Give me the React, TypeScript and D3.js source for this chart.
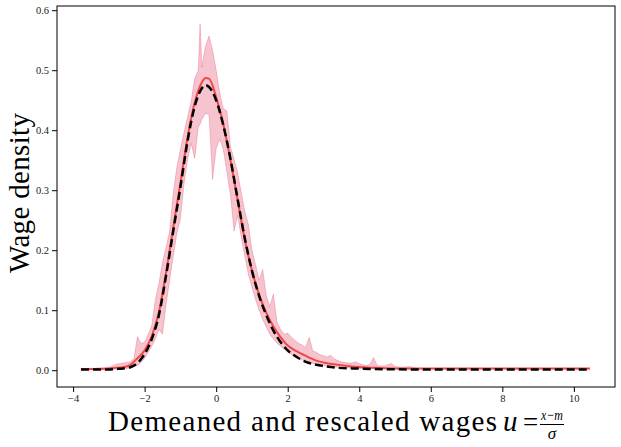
import React, { useRef, useEffect } from 'react';
import * as d3 from 'd3';

// confidence band around the estimated wage density
const bandU = [-3.78, -3.7, -3.6, -3.5, -3.4, -3.3, -3.2, -3.1, -3.0, -2.9, -2.8, -2.7, -2.6, -2.5, -2.4, -2.3, -2.2, -2.1, -2.0, -1.9,
  -1.8, -1.7, -1.6, -1.5, -1.4, -1.3, -1.2, -1.1, -1.0, -0.9, -0.8, -0.7, -0.6, -0.5, -0.45, -0.4, -0.3, -0.2, -0.1, 0.0,
  0.1, 0.2, 0.3, 0.4, 0.5, 0.6, 0.7, 0.8, 0.9, 1.0, 1.1, 1.2, 1.3, 1.4, 1.5, 1.6, 1.7, 1.8, 1.9, 2.0,
  2.1, 2.2, 2.3, 2.4, 2.5, 2.6, 2.7, 2.8, 2.9, 3.0, 3.1, 3.2, 3.3, 3.4, 3.5, 3.6, 3.7, 3.8, 3.9, 4.0,
  4.1, 4.2, 4.3, 4.4, 4.5, 4.6, 4.7, 4.8, 4.9, 5.0, 5.2, 5.4, 5.6, 6.0, 7.0, 8.0, 9.0, 10.0, 10.45];
const bandLow = [0.001, 0.001, 0.001, 0.001, 0.001, 0.001, 0.001, 0.001, 0.001, 0.001, 0.002, 0.002, 0.002, 0.003, 0.004, 0.006, 0.008, 0.013, 0.020, 0.030,
  0.040, 0.052, 0.068, 0.060, 0.110, 0.150, 0.190, 0.228, 0.252, 0.310, 0.352, 0.378, 0.353, 0.405, 0.410, 0.418, 0.428, 0.426, 0.318, 0.370,
  0.385, 0.368, 0.330, 0.292, 0.232, 0.258, 0.222, 0.190, 0.160, 0.138, 0.118, 0.100, 0.085, 0.072, 0.060, 0.052, 0.045, 0.040, 0.035, 0.030,
  0.026, 0.022, 0.019, 0.017, 0.015, 0.013, 0.011, 0.010, 0.009, 0.008, 0.007, 0.006, 0.005, 0.005, 0.004, 0.004, 0.004, 0.003, 0.003, 0.003,
  0.003, 0.003, 0.003, 0.003, 0.003, 0.002, 0.002, 0.002, 0.002, 0.002, 0.002, 0.002, 0.002, 0.002, 0.002, 0.002, 0.002, 0.002, 0.002];
const bandHigh = [0.003, 0.003, 0.003, 0.003, 0.003, 0.004, 0.004, 0.004, 0.005, 0.007, 0.010, 0.011, 0.012, 0.013, 0.014, 0.019, 0.056, 0.044, 0.047, 0.060,
  0.075, 0.118, 0.145, 0.180, 0.205, 0.232, 0.295, 0.338, 0.368, 0.396, 0.422, 0.448, 0.486, 0.500, 0.577, 0.505, 0.540, 0.557, 0.533, 0.500,
  0.462, 0.436, 0.432, 0.372, 0.352, 0.330, 0.296, 0.265, 0.243, 0.200, 0.176, 0.150, 0.168, 0.125, 0.106, 0.127, 0.080, 0.068, 0.060, 0.062,
  0.055, 0.050, 0.045, 0.042, 0.038, 0.055, 0.032, 0.030, 0.026, 0.024, 0.022, 0.025, 0.019, 0.016, 0.014, 0.013, 0.012, 0.012, 0.014, 0.011,
  0.009, 0.008, 0.010, 0.021, 0.008, 0.007, 0.007, 0.009, 0.011, 0.006, 0.005, 0.006, 0.003, 0.003, 0.003, 0.003, 0.003, 0.003, 0.003];

// smooth curves: estimated (red) and fitted (black dashed)
const lineU = [-3.78, -3.4, -3.0, -2.8, -2.6, -2.4, -2.2, -2.0, -1.8, -1.6, -1.4, -1.2, -1.0, -0.8, -0.6, -0.4, -0.3, -0.2, 0.0, 0.2,
  0.4, 0.6, 0.8, 1.0, 1.2, 1.4, 1.6, 1.8, 2.0, 2.2, 2.4, 2.6, 2.8, 3.0, 3.4, 3.8, 4.4, 5.0, 6.0, 7.0, 8.0, 9.0, 10.0, 10.45];
const meanDensity = [0.002, 0.002, 0.003, 0.004, 0.005, 0.009, 0.020, 0.033, 0.057, 0.097, 0.163, 0.238, 0.312, 0.388, 0.446, 0.480, 0.487, 0.486, 0.455, 0.410,
  0.350, 0.284, 0.218, 0.166, 0.126, 0.096, 0.073, 0.055, 0.041, 0.033, 0.027, 0.021, 0.016, 0.013, 0.009, 0.006, 0.004, 0.003, 0.003, 0.003, 0.003, 0.003, 0.003, 0.003];
const fitDensity = [0.001, 0.001, 0.001, 0.002, 0.003, 0.005, 0.012, 0.027, 0.052, 0.092, 0.158, 0.232, 0.305, 0.382, 0.440, 0.470, 0.475, 0.472, 0.450, 0.408,
  0.352, 0.285, 0.220, 0.166, 0.124, 0.092, 0.066, 0.047, 0.033, 0.024, 0.017, 0.012, 0.009, 0.007, 0.004, 0.003, 0.002, 0.0015, 0.001, 0.001, 0.001, 0.001, 0.001, 0.001];

const xTicks = [-4, -2, 0, 2, 4, 6, 8, 10];
const yTicks = [0, 0.1, 0.2, 0.3, 0.4, 0.5, 0.6];

const FONT = '"Liberation Serif", "DejaVu Serif", serif';

export default function App() {
  const ref = useRef<SVGSVGElement>(null);

  useEffect(() => {
    const svg = d3.select(ref.current);
    svg.selectAll('*').remove();

    const left = 57, top = 6, right = 615, bottom = 387;
    const x = d3.scaleLinear().domain([-4.45, 11.15]).range([left, right]);
    const y = d3.scaleLinear().domain([-0.028, 0.607]).range([bottom, top]);

    const band = bandU.map((u, i) => ({ u, lo: bandLow[i], hi: bandHigh[i] }));
    const mean = lineU.map((u, i) => ({ u, v: meanDensity[i] }));
    const fit = lineU.map((u, i) => ({ u, v: fitDensity[i] }));

    svg.append('path')
      .datum(band)
      .attr('fill', '#dc143c')
      .attr('fill-opacity', 0.25)
      .attr('stroke', '#dc143c')
      .attr('stroke-opacity', 0.22)
      .attr('stroke-width', 1)
      .attr('d', d3.area<any>().x(d => x(d.u)).y0(d => y(d.lo)).y1(d => y(d.hi)));

    svg.append('path')
      .datum(mean)
      .attr('fill', 'none')
      .attr('stroke', '#f04848')
      .attr('stroke-width', 2)
      .attr('d', d3.line<any>().x(d => x(d.u)).y(d => y(d.v)).curve(d3.curveMonotoneX));

    svg.append('path')
      .datum(fit)
      .attr('fill', 'none')
      .attr('stroke', '#000')
      .attr('stroke-width', 2.5)
      .attr('stroke-dasharray', '8,4')
      .attr('d', d3.line<any>().x(d => x(d.u)).y(d => y(d.v)).curve(d3.curveMonotoneX));

    // axes
    const fmtX = (d: any) => (d < 0 ? '\u2212' + Math.abs(d) : String(d));
    const gx = svg.append('g')
      .attr('transform', 'translate(0,' + bottom + ')')
      .call(d3.axisBottom(x).tickValues(xTicks).tickSize(5).tickPadding(3).tickFormat(fmtX as any));
    const gy = svg.append('g')
      .attr('transform', 'translate(' + left + ',0)')
      .call(d3.axisLeft(y).tickValues(yTicks).tickSize(5).tickPadding(3).tickFormat(d3.format('.1f') as any));
    [gx, gy].forEach(g => {
      g.select('.domain').remove();
      g.selectAll('line').attr('stroke', '#000').attr('stroke-width', 1);
      g.selectAll('text').attr('fill', '#222').style('font-family', FONT).style('font-size', '10.5px');
    });

    svg.append('rect')
      .attr('x', left).attr('y', top)
      .attr('width', right - left).attr('height', bottom - top)
      .attr('fill', 'none').attr('stroke', '#000').attr('stroke-width', 1);

    // y label
    svg.append('text')
      .attr('transform', 'translate(28.5,193) rotate(-90)')
      .attr('text-anchor', 'middle')
      .attr('textLength', 160)
      .attr('lengthAdjust', 'spacing')
      .style('font-family', FONT).style('font-size', '29px')
      .text('Wage density');

    // x label
    const xl = svg.append('g').style('font-family', FONT).attr('fill', '#000');
    xl.append('text').attr('x', 108).attr('y', 431)
      .attr('textLength', 389).attr('lengthAdjust', 'spacing')
      .style('font-size', '29px').text('Demeaned and rescaled wages');
    xl.append('text').attr('x', 503).attr('y', 431)
      .style('font-size', '29px').style('font-style', 'italic').text('u');
    xl.append('text').attr('x', 523).attr('y', 431)
      .style('font-size', '27px').text('=');
    xl.append('text').attr('x', 541).attr('y', 420)
      .attr('textLength', 22).attr('lengthAdjust', 'spacingAndGlyphs')
      .style('font-size', '15px').style('font-style', 'italic')
      .text('x\u2212m');
    xl.append('line').attr('x1', 540).attr('x2', 564).attr('y1', 424.5).attr('y2', 424.5)
      .attr('stroke', '#000').attr('stroke-width', 1);
    xl.append('text').attr('x', 552).attr('y', 439).attr('text-anchor', 'middle')
      .style('font-size', '17px').style('font-style', 'italic').text('\u03c3');
  }, []);

  return (
    <div style={{ position: 'absolute', left: 0, top: 0, background: '#fff' }}>
      <svg ref={ref} width={621} height={447}></svg>
    </div>
  );
}
